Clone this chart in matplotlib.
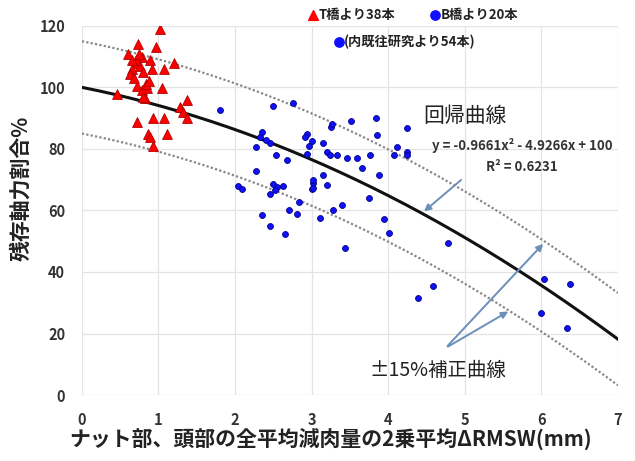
import numpy as np
import matplotlib
matplotlib.use("Agg")
import matplotlib.pyplot as plt

plt.rcParams['font.family'] = ['Noto Sans CJK JP', 'DejaVu Sans']

# T橋 (red triangles)
t_x = [1.02, 0.73, 0.97, 0.60, 0.78, 0.89, 1.20, 0.72, 0.65, 0.92, 1.07, 0.63,
       0.76, 0.72, 0.85, 1.05, 0.78, 0.46, 0.82, 1.37, 1.28, 1.32, 1.37, 0.72,
       0.93, 1.07, 0.86, 1.11, 0.93, 0.89, 0.70, 0.80, 0.68, 0.84, 0.75, 0.88,
       0.66, 0.80]
t_y = [119, 114, 113, 111, 110, 109, 108, 108, 106, 106, 106, 104.5,
       107, 100.6, 99.7, 99.7, 99, 98, 96.4, 96, 93.5, 92, 90, 88.6,
       90, 90, 85, 85, 81, 84, 109, 105, 103, 101, 111, 102,
       109, 97]

# B橋 + 既往研究 (blue circles)
b_x = [1.80, 2.50, 2.76, 2.35, 2.33, 2.28, 2.46, 2.94, 2.91, 2.96, 2.94, 2.54,
       2.68, 2.28, 2.04, 2.09, 2.50, 2.63, 2.46, 3.02, 3.00, 2.83, 2.70, 2.81,
       2.35, 2.46, 2.65, 3.25, 3.27, 3.52, 3.84, 4.25, 3.86, 3.15, 3.20, 3.24,
       3.33, 3.46, 3.59, 3.76, 3.66, 3.88, 4.12, 4.07, 4.24, 4.25, 3.15, 3.02,
       3.02, 3.20, 3.75, 3.40, 3.28, 3.11, 3.95, 4.01, 3.44, 4.78, 4.59, 4.39,
       6.04, 6.37, 5.99, 6.34, 2.55, 2.52, 3.00, 2.40]
b_y = [92.5, 94, 95, 85.4, 84, 80.6, 82, 85, 84, 81, 78.5, 78,
       76.3, 72.8, 68, 67, 68.7, 68, 65.5, 69, 67, 62.7, 60, 59,
       58.4, 55, 52.3, 87, 88, 89, 90, 86.7, 84.4, 81.8, 78.9, 77.9,
       77.9, 76.9, 76.9, 77.9, 73.7, 71.4, 80.5, 77.9, 78.9, 77.9, 71.4, 69.8,
       67.2, 68.2, 64, 61.7, 60, 57.5, 57.1, 52.6, 47.7, 49.4, 35.4, 31.5,
       37.7, 36, 26.6, 21.7, 67.5, 66.5, 82.5, 83]

# regression y = a x^2 + b x + c, band +-15
coef = [-0.9661, -4.9266, 100]
band = 15

fig = plt.figure(figsize=(6.35, 4.61), dpi=100)
ax = fig.add_axes([0.129, 0.143, 0.844, 0.801])

xs = np.linspace(0, 7, 200)
fit = np.polyval(coef, xs)
ax.plot(xs, fit + band, color='#888888', lw=1.6, ls=(0, (1, 1)), zorder=2)
ax.plot(xs, fit - band, color='#888888', lw=1.6, ls=(0, (1, 1)), zorder=2)
ax.plot(xs, fit, color='#111111', lw=2.2, zorder=3)

ax.scatter(t_x, t_y, marker='^', s=50, color='#ff0000', edgecolors='#b00000',
           linewidths=0.6, zorder=4)
ax.scatter(b_x, b_y, marker='o', s=18, color='#1010ff', edgecolors='#000080',
           linewidths=0.6, zorder=4)

ax.set_xlim(0, 7)
ax.set_ylim(0, 120)
ax.set_xticks(range(0, 8))
ax.set_yticks(range(0, 121, 20))
ax.grid(True, color='#e4e4e4', lw=0.9)
ax.set_axisbelow(True)
for s in ax.spines.values():
    s.set_visible(False)
ax.tick_params(length=0, labelsize=10.5, colors='#333333', pad=12)
for lab in ax.get_xticklabels() + ax.get_yticklabels():
    lab.set_fontweight('bold')

ax.set_xlabel('ナット部、頭部の全平均減肉量の2乗平均ΔRMSW(mm)', fontsize=15,
              fontweight='bold', color='#222222', labelpad=0, x=0.463)
ax.set_ylabel('残存軸力割合%', fontsize=15, fontweight='bold', color='#222222',
              labelpad=6, y=0.56)

# legend-like header
hdr = dict(transform=ax.transAxes, fontsize=9.5, fontweight='bold', va='center',
           color='#222222')
ax.scatter([0.431], [1.03], marker='^', s=50, color='#ff0000', transform=ax.transAxes, clip_on=False)
ax.text(0.442, 1.03, 'T橋より38本', **hdr)
ax.scatter([0.659], [1.03], marker='o', s=45, color='#1010ff', transform=ax.transAxes, clip_on=False)
ax.text(0.669, 1.03, 'B橋より20本', **hdr)
ax.scatter([0.479], [0.957], marker='o', s=45, color='#1010ff', transform=ax.transAxes, clip_on=False)
ax.text(0.489, 0.957, '(内既往研究より54本)', **hdr)

# annotations
ax.text(4.46, 90.6, '回帰曲線', fontsize=15, color='#222222', va='center')
ax.text(5.75, 81.2, 'y = -0.9661x² - 4.9266x + 100', fontsize=9.5, fontweight='bold',
        ha='center', va='center', color='#333333')
ax.text(5.75, 74, 'R² = 0.6231', fontsize=9.5, fontweight='bold', ha='center',
        va='center', color='#333333')
ax.annotate('', xy=(4.44, np.polyval(coef, 4.44)), xytext=(4.98, 70.5),
            arrowprops=dict(arrowstyle='-|>', color='#6b8fb8', lw=1.4))

ax.text(3.76, 8.1, '±15%補正曲線', fontsize=14, color='#222222', va='center')
ax.annotate('', xy=(6.05, np.polyval(coef, 6.05) + band), xytext=(4.75, 15.3),
            arrowprops=dict(arrowstyle='-|>', color='#6b8fb8', lw=1.4))
ax.annotate('', xy=(5.6, np.polyval(coef, 5.6) - band + 0.5), xytext=(4.75, 15.3),
            arrowprops=dict(arrowstyle='-|>', color='#6b8fb8', lw=1.4))

fig.savefig('out.png', dpi=100)
